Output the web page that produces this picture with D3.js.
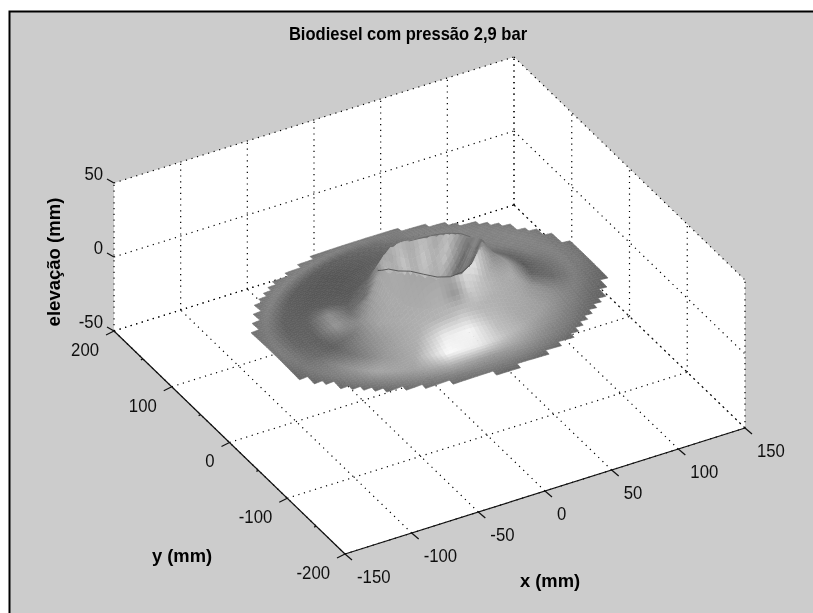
<!DOCTYPE html>
<html><head><meta charset="utf-8">
<script src="https://cdn.jsdelivr.net/npm/d3@7"></script>
<style>html,body{margin:0;padding:0;background:#fff}svg{display:block}text{font-family:"Liberation Sans",Arial,sans-serif}</style>
</head><body><svg id="c" width="813" height="613"></svg>
<script>
const titleText = "Biodiesel com pressão 2,9 bar";
const xLabel = "x (mm)", yLabel = "y (mm)", zLabel = "elevação (mm)";
const xTicks = [-150,-100,-50,0,50,100,150];
const yTicks = [-200,-100,0,100,200];
const yMinorTicks = [-150,-50,50,150];
const zTicks = [-50,0,50];
// surface centre and polar sampling of the mound
const centreX = 26, centreY = 60;
const radii = [0,18,28,36,44,56,70,85,100,112,125];
const bearings = d3.range(0,360,15);
const rimRadius = [117,117,117,115,117,116,119,120,120,120,120,122,116,122,121,120,121,119,120,122,120,117,120,121];
const elevation = [
 [-26,-24,-10, 5,-6,-15,-22,-25,-27,-29,-30],
 [-26,-24,-11, 3,-6,-15,-22,-25,-27,-29,-30],
 [-26,-24,-11, 3,-7,-16,-22,-25,-27,-29,-30],
 [-26,-24,-12, 2,-7,-16,-22,-25,-27,-29,-30],
 [-26,-24,-12, 1,-8,-17,-23,-25,-27,-29,-30],
 [-26,-24,-13, 0,-8,-17,-23,-25,-27,-29,-30],
 [-26,-24,-13, 0,-9,-18,-23,-26,-27,-29,-30],
 [-26,-24,-12, 2,-10,-20,-24,-26,-27,-29,-30],
 [-26,-24,-13, 1,-12,-23,-26,-27,-28,-29,-30],
 [-26,-24,-15,-3,-13,-24,-26,-27,-28,-29,-30],
 [-26,-24,-15,-3,-15,-25,-26,-27,-28,-29,-30],
 [-26,-24,-14, 0,-16,-24,-24,-27,-28,-29,-30],
 [-26,-24,-12, 4,-12,-22,-24,-27,-28,-29,-30],
 [-26,-24,-11, 8,-8,-19,-25,-27,-28,-29,-30],
 [-26,-24,-10, 9,-6,-17,-24,-27,-28,-29,-30],
 [-26,-24,-10,10,-5,-15,-22,-26,-28,-29,-30],
 [-26,-24,-11, 8,-4,-14,-21,-25,-27,-29,-30],
 [-26,-24,-11, 5,-5,-14,-20,-25,-27,-29,-30],
 [-26,-24,-12, 3,-6,-14,-20,-25,-27,-29,-30],
 [-26,-24,-12, 3,-6,-14,-21,-25,-27,-29,-30],
 [-26,-24,-11, 5,-5,-13,-21,-25,-27,-29,-30],
 [-26,-24,-10, 9,-3,-12,-21,-25,-27,-29,-30],
 [-26,-24,-10,10,-3,-13,-21,-25,-27,-29,-30],
 [-26,-24,-10, 9,-2,-14,-21,-25,-27,-29,-30]
];
const shade = [
 [120,115,125,140,150,150, 90,110,128,118,100],
 [120,105,105,120,130,110,100,125,130,120,105],
 [150,150,150,150,130,125,120,130,132,125,110],
 [165,165,190,190,130,125,125,128,130,125,110],
 [170,172,175,168,130,125,125,130,130,125,112],
 [170,185,195,190,130,125,118,115,125,124,112],
 [170,170,172,170,130,112, 98,100,110,126,112],
 [170,185,195,185,125,100, 90, 92, 98,128,112],
 [170,170,170,170,120, 92, 86, 86, 92,130,115],
 [170,185,190,170,100, 88, 88, 88, 92,130,115],
 [170,165,160,135,105, 92, 92, 90, 95,128,110],
 [160,150,150,150,110,105,140, 95, 95,122,110],
 [150,150,155,165,150,120,150, 96,100,125,105],
 [150,150,160,170,165,150,115, 95,108,120,100],
 [150,150,160,170,170,165,140,118,140,125,100],
 [150,150,160,165,170,170,160,150,165,130,100],
 [150,150,160,165,170,175,175,170,160,130,100],
 [150,150,160,165,175,180,235,250,170,125,100],
 [150,150,160,165,150,195,245,235,155,125,100],
 [150,150,170,215,205,180,190,190,155,125, 95],
 [150,150,180,230,190,175,170,165,140,120, 95],
 [130,130,140,190,170,170,165,155,130,110, 90],
 [110,105,110,150,150,170,150,140,125,105, 95],
 [110,100, 95,105,135,160,100,105,125,110, 95]
];
const gridStep = 3, jagStep = 6;

// projection of the view box
const pxX = d3.scaleLinear().domain([-150,150]).range([0,400]);
const pyX = d3.scaleLinear().domain([-150,150]).range([0,-126]);
const pxY = d3.scaleLinear().domain([-200,200]).range([0,-231]);
const pyY = d3.scaleLinear().domain([-200,200]).range([0,-223]);
const pyZ = d3.scaleLinear().domain([-50,50]).range([0,-148]);
const proj = (x,y,z)=>[345+pxX(x)+pxY(y), 554+pyX(x)+pyY(y)+pyZ(z)];

const svg = d3.select("#c");
const defs = svg.append("defs");
defs.append("filter").attr("id","soft").attr("x","-5%").attr("y","-5%").attr("width","110%").attr("height","110%")
  .append("feGaussianBlur").attr("stdDeviation",0.55);
defs.append("filter").attr("id","softText").attr("x","-10%").attr("y","-30%").attr("width","120%").attr("height","160%")
  .append("feGaussianBlur").attr("stdDeviation",0.35);

svg.append("rect").attr("x",0).attr("y",0).attr("width",813).attr("height",613).attr("fill","#fff");
svg.append("rect").attr("x",9).attr("y",12).attr("width",804).attr("height",601).attr("fill","#cccccc");
svg.append("path").attr("d","M9.5,613V11.5H813").attr("fill","none").attr("stroke","#000").attr("stroke-width",2);

// white walls and floor
const wall = [proj(-150,200,-50),proj(-150,200,50),proj(150,200,50),proj(150,-200,50),proj(150,-200,-50),proj(-150,-200,-50)];
svg.append("polygon").attr("points",wall.map(p=>p.join(",")).join(" ")).attr("fill","#fff");

// grid
const g = svg.append("g").attr("fill","none").attr("stroke","#000").attr("stroke-width",1.2).attr("stroke-dasharray","1.2 4.6");
const seg = (a,b)=>g.append("line").attr("x1",a[0]).attr("y1",a[1]).attr("x2",b[0]).attr("y2",b[1]);
xTicks.forEach(x=>{
  seg(proj(x,-200,-50),proj(x,200,-50));
  seg(proj(x,200,-50),proj(x,200,50));
});
yTicks.forEach(y=>{
  seg(proj(-150,y,-50),proj(150,y,-50));
  seg(proj(150,y,-50),proj(150,y,50));
});
zTicks.forEach(z=>{
  seg(proj(-150,200,z),proj(150,200,z));
  seg(proj(150,200,z),proj(150,-200,z));
});

// surface
function sample(M,thetaDeg,r){
  const t = ((thetaDeg%360)+360)%360/15, i0=Math.floor(t)%24, i1=(i0+1)%24, ft=t-Math.floor(t);
  let j=d3.bisectRight(radii,r)-1; j=Math.max(0,Math.min(radii.length-2,j));
  const fr=(r-radii[j])/(radii[j+1]-radii[j]);
  const a=M[i0][j]*(1-fr)+M[i0][j+1]*fr, b=M[i1][j]*(1-fr)+M[i1][j+1]*fr;
  return a*(1-ft)+b*ft;
}
const polar=(x,y)=>[Math.atan2(y-centreY,x-centreX)*180/Math.PI, Math.hypot(x-centreX,y-centreY)];
const rimAt=th=>{const t=((th%360)+360)%360/15,i=Math.floor(t)%24,f=t-Math.floor(t);return rimRadius[i]*(1-f)+rimRadius[(i+1)%24]*f;};
const cells=[];
for(let x=centreX-126;x<centreX+126;x+=gridStep){
  for(let y=centreY-126;y<centreY+126;y+=gridStep){
    const mx=centreX+Math.round((x+gridStep/2-centreX)/jagStep)*jagStep;
    const my=centreY+Math.round((y+gridStep/2-centreY)/jagStep)*jagStep;
    const [tm,rm]=polar(mx,my);
    if(rm>rimAt(tm)) continue;
    const [tc,rc]=polar(x+gridStep/2,y+gridStep/2);
    const corners=[[x,y],[x+gridStep,y],[x+gridStep,y+gridStep],[x,y+gridStep]].map(([a,b])=>{
      const [t,r]=polar(a,b); return proj(a,b,sample(elevation,t,Math.min(r,125)));
    });
    const s=Math.round(sample(shade,tc,Math.min(rc,125)));
    cells.push({corners,s,depth:proj(x,y,-50)[1]});
  }
}
cells.sort((a,b)=>a.depth-b.depth);
const surf = svg.append("g").attr("filter","url(#soft)");
surf.selectAll("path").data(cells).join("path")
  .attr("d",d=>"M"+d.corners.map(p=>p[0].toFixed(1)+","+p[1].toFixed(1)).join("L")+"Z")
  .attr("fill",d=>`rgb(${d.s},${d.s},${d.s})`).attr("stroke",d=>`rgb(${d.s},${d.s},${d.s})`).attr("stroke-width",0.6);
// crest of the crater
const crestIdx = radii.indexOf(36);
const crest = d3.line().curve(d3.curveLinear);
const crestPts = bearings.map((b,i)=>{const t=b*Math.PI/180,x=centreX+36*Math.cos(t),y=centreY+36*Math.sin(t);return proj(x,y,elevation[i][crestIdx]);});
surf.append("path").attr("d",crest(crestPts.slice(11,21))).attr("fill","none").attr("stroke","#505050").attr("stroke-width",0.9);
surf.append("path").attr("d",crest(crestPts.slice(1,7))).attr("fill","none").attr("stroke","#666").attr("stroke-width",0.9);

// axes
const ax = svg.append("g").attr("stroke","#111").attr("stroke-width",1.2);
const line=(a,b)=>ax.append("line").attr("x1",a[0]).attr("y1",a[1]).attr("x2",b[0]).attr("y2",b[1]);
line(proj(-150,200,-50),proj(-150,-200,-50));
line(proj(-150,-200,-50),proj(150,-200,-50));
xTicks.forEach(x=>{const p=proj(x,-200,-50);line(p,[p[0]+7,p[1]+6]);});
yTicks.forEach(y=>{const p=proj(-150,y,-50);line(p,[p[0]-8,p[1]+4]);});
yMinorTicks.forEach(y=>{const p=proj(-150,y,-50);line(p,[p[0]-2,p[1]+1]);});
zTicks.forEach(z=>{const p=proj(-150,200,z);line(p,[p[0]-7,p[1]-4]);});

const txt = svg.append("g").attr("filter","url(#softText)");
const lab=(t,x,y,anchor,bold,sx,rot)=>txt.append("text")
  .attr("transform",`translate(${x},${y})${rot?" rotate(-90)":""} scale(${sx},1)`).attr("text-anchor",anchor)
  .attr("dominant-baseline","middle").attr("font-size",18).attr("font-weight",bold?"bold":"normal").attr("fill",bold?"#000":"#111").text(t);
xTicks.forEach(x=>{const p=proj(x,-200,-50);lab(String(x),p[0]+12,p[1]+24,"start",false,0.93);});
yTicks.forEach(y=>{const p=proj(-150,y,-50);lab(String(y),p[0]-15,p[1]+20,"end",false,0.93);});
zTicks.forEach(z=>{const p=proj(-150,200,z);lab(String(z),p[0]-11,p[1]-8,"end",false,0.93);});
lab(titleText,408,35,"middle",true,0.92);
lab(yLabel,182,557,"middle",true,1.02);
lab(xLabel,550,582,"middle",true,1.02);
lab(zLabel,55,262,"middle",true,1.03,true);
</script></body></html>
